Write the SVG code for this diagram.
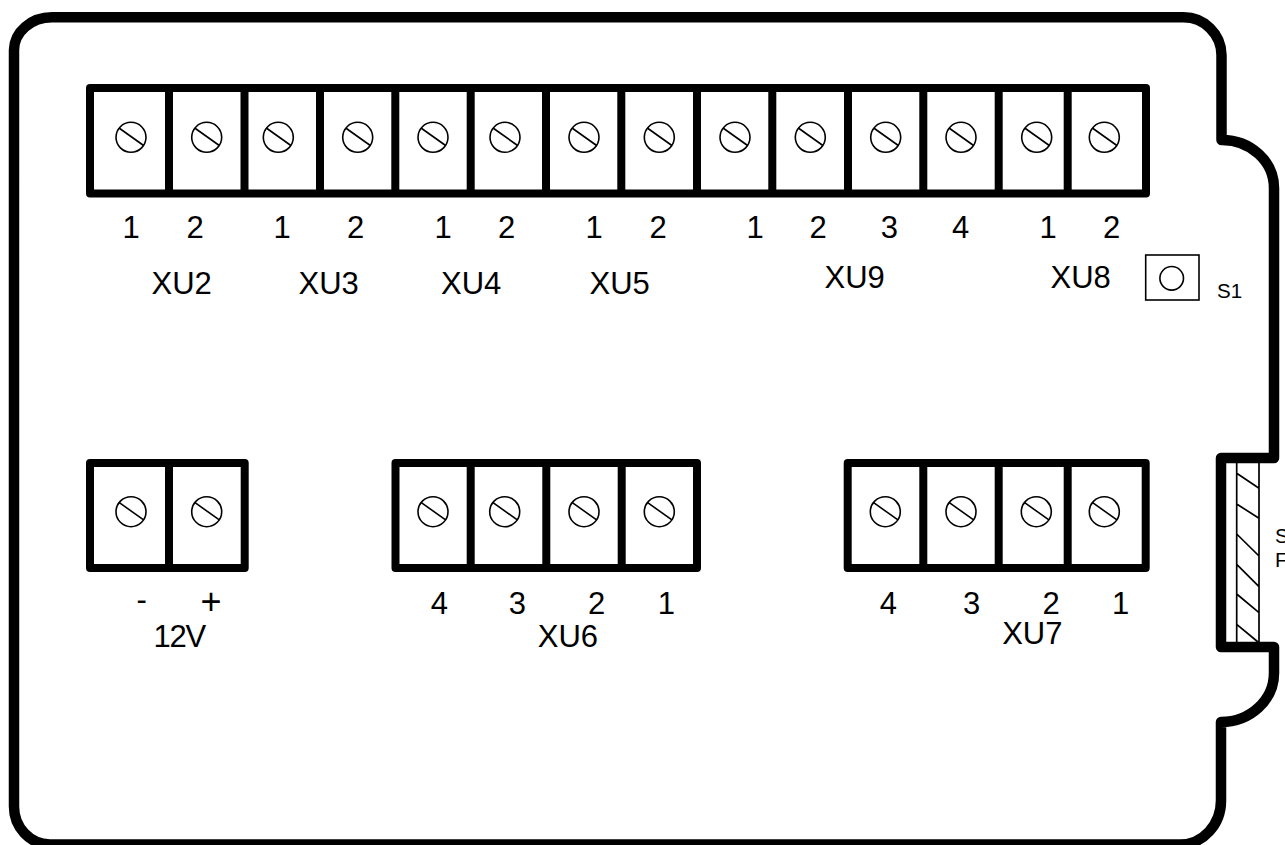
<svg xmlns="http://www.w3.org/2000/svg" width="1285" height="845" viewBox="0 0 1285 845">
<style>
.outline{fill:none;stroke:#000;stroke-width:10.5;stroke-linejoin:round;stroke-linecap:round}
.strip{fill:none;stroke:#000;stroke-width:8;stroke-linejoin:round}
.thin{fill:none;stroke:#000;stroke-width:1.6}
.hatch{fill:none;stroke:#000;stroke-width:1.7}
text{font-family:"Liberation Sans",Arial,sans-serif;fill:#000}
.t{font-size:31px}
.s{font-size:20.5px}
</style>
<defs>
<g id="screw"><circle class="thin" r="15"/><line class="thin" x1="-12" y1="-9.3" x2="12.6" y2="8.2"/></g>
</defs>
<rect width="1285" height="845" fill="#fff"/>
<g id="enclosure">
<path class="outline" d="M14 50A38 33 0 0 1 52 17.300L1183 17.300A38 38 0 0 1 1221.500 55L1221.500 140A52 48 0 0 1 1274 188L1274 458L1221 458L1221 647L1274 647L1274 673A53 49 0 0 1 1221 722L1221 800A41 44 0 0 1 1180 844.500L50 844.500A36 38 0 0 1 14 806Z"/>
</g>
<g id="connector-strip">
<path class="hatch" d="M1236.700 463V642M1259 463V642M1236.700 473.300L1259 488.300M1236.700 504L1259 518.300M1236.700 534L1259 556M1236.700 564.300L1259 586.700M1236.700 594L1259 612.700M1236.700 624.300L1258 642"/>
<text class="s" x="1275" y="543">S</text>
<text class="s" x="1275" y="567.300">F</text>
</g>
<g id="top-strip">
<rect class="strip" x="90" y="88" width="1056" height="105.500"/>
<path class="strip" d="M169 88V193.500M244.500 88V193.500M320 88V193.500M395.300 88V193.500M470.700 88V193.500M546 88V193.500M621.300 88V193.500M697 88V193.500M772.300 88V193.500M848 88V193.500M923.300 88V193.500M998.700 88V193.500M1067.700 88V193.500"/>
<use href="#screw" x="131" y="137.300"/><use href="#screw" x="206.700" y="137.300"/>
<use href="#screw" x="278.300" y="137.300"/><use href="#screw" x="357.700" y="137.300"/>
<use href="#screw" x="433" y="137.300"/><use href="#screw" x="505" y="137.300"/>
<use href="#screw" x="584" y="137.300"/><use href="#screw" x="659.300" y="137.300"/>
<use href="#screw" x="735" y="137.300"/><use href="#screw" x="810.300" y="137.300"/>
<use href="#screw" x="885.700" y="137.300"/><use href="#screw" x="961" y="137.300"/>
<use href="#screw" x="1036.700" y="137.300"/><use href="#screw" x="1104.300" y="137.300"/>
</g>
<g id="top-labels" class="t" text-anchor="middle">
<text x="131" y="237.700">1</text><text x="195" y="237.700">2</text>
<text x="282" y="237.700">1</text><text x="355.700" y="237.700">2</text>
<text x="443" y="237.700">1</text><text x="506.700" y="237.700">2</text>
<text x="594" y="237.700">1</text><text x="658" y="237.700">2</text>
<text x="755" y="237.700">1</text><text x="818" y="237.700">2</text>
<text x="889.300" y="237.700">3</text><text x="960.700" y="237.700">4</text>
<text x="1048" y="237.700">1</text><text x="1111.700" y="237.700">2</text>
</g>
<g id="XU2"><text class="t" x="151.500" y="294.300">XU2</text></g>
<g id="XU3"><text class="t" x="298.500" y="294.300">XU3</text></g>
<g id="XU4"><text class="t" x="441" y="294.300">XU4</text></g>
<g id="XU5"><text class="t" x="589.500" y="294.300">XU5</text></g>
<g id="XU9"><text class="t" x="824.500" y="287.700">XU9</text></g>
<g id="XU8"><text class="t" x="1050.500" y="287.700">XU8</text></g>
<g id="S1">
<rect class="thin" x="1145.700" y="255" width="53.300" height="45"/>
<circle class="thin" cx="1171.700" cy="278.300" r="11.800"/>
<text class="s" x="1217" y="298">S1</text>
</g>
<g id="power-12V">
<rect class="strip" x="90" y="463" width="154.700" height="105"/>
<path class="strip" d="M169 463V568"/>
<use href="#screw" x="131" y="511.700"/><use href="#screw" x="206.700" y="511.700"/>
<g class="t" text-anchor="middle"><text x="141.700" y="610">-</text><text x="211" y="613.500" style="font-size:36px">+</text></g>
<text class="t" x="153.500" y="647.300" style="letter-spacing:-1.2px">12V</text>
</g>
<g id="XU6">
<rect class="strip" x="395.500" y="463" width="301.500" height="105"/>
<path class="strip" d="M470.700 463V568M546.300 463V568M621.700 463V568"/>
<use href="#screw" x="433" y="511.700"/><use href="#screw" x="504.700" y="511.700"/>
<use href="#screw" x="584" y="511.700"/><use href="#screw" x="659.300" y="511.700"/>
<g class="t" text-anchor="middle"><text x="439.300" y="614">4</text><text x="517.300" y="614">3</text><text x="596.700" y="614">2</text><text x="666.300" y="614">1</text></g>
<text class="t" x="537.800" y="647.300">XU6</text>
</g>
<g id="XU7">
<rect class="strip" x="847.700" y="463" width="298" height="105"/>
<path class="strip" d="M923.300 463V568M998.700 463V568M1067.700 463V568"/>
<use href="#screw" x="885.300" y="511.700"/><use href="#screw" x="961" y="511.700"/>
<use href="#screw" x="1036.300" y="511.700"/><use href="#screw" x="1104.300" y="511.700"/>
<g class="t" text-anchor="middle"><text x="888.300" y="614">4</text><text x="971.700" y="614">3</text><text x="1051" y="614">2</text><text x="1120.700" y="614">1</text></g>
<text class="t" x="1002.200" y="644">XU7</text>
</g>
<g id="connectors"/>
</svg>
